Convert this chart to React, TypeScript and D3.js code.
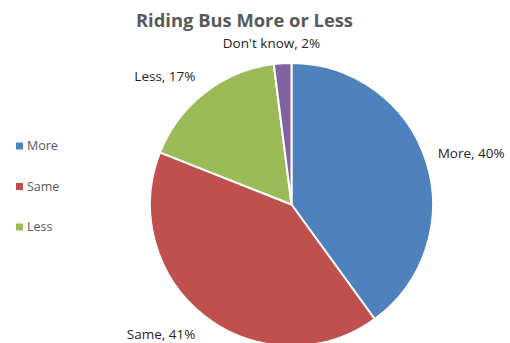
import React from "react";
import * as d3 from "d3";

const categories = ["More", "Same", "Less", "Don't know"];
const values = [40, 41, 17, 2];
const colors = ["#4F81BD", "#C0504D", "#9BBB59", "#8064A2"];
const legendItems = ["More", "Same", "Less"];
const title = "Riding Bus More or Less";

const W = 510;
const H = 343;
const cx = 291.5;
const cy = 204.5;
const R = 141.5;
const labelR = 160;
const FONT = "'Open Sans', 'Noto Sans', sans-serif";

export default function App() {
  const data = categories.map((c, i) => ({ name: c, value: values[i], color: colors[i] }));
  const pie = d3.pie<any>().value((d) => d.value).sort(null);
  const arcs = pie(data);
  const arc = d3.arc<any>().innerRadius(0).outerRadius(R);
  const legendY = d3.scalePoint<string>().domain(legendItems).range([146, 227]);

  return (
    <svg width={W} height={H} style={{ position: "absolute", left: 0, top: 0, background: "#fff" }} fontFamily={FONT}>
      <rect width={W} height={H} fill="#fff" />
      <text x={244.5} y={27} textAnchor="middle" fontSize={18} fontWeight="bold" fill="#595959" textLength={217} lengthAdjust="spacingAndGlyphs">
        {title}
      </text>
      <g transform={`translate(${cx},${cy})`}>
        {arcs.map((a, i) => (
          <path key={i} d={arc(a) as string} fill={a.data.color} stroke="#fff" strokeWidth={2} />
        ))}
        {arcs.map((a, i) => {
          const mid = (a.startAngle + a.endAngle) / 2;
          const s = Math.sin(mid);
          const c = Math.cos(mid);
          const x = labelR * s;
          const y = -labelR * c;
          const anchor = Math.abs(s) < 0.3 ? "middle" : s > 0 ? "start" : "end";
          const dx = anchor === "start" ? -6 : anchor === "end" ? 2 : -10;
          const dy = c < 0 ? 3 : -2;
          return (
            <text key={"l" + i} x={x + dx} y={y + dy} dy="0.35em" textAnchor={anchor} fontSize={13.5} fill="#262626">
              {`${a.data.name}, ${a.data.value}%`}
            </text>
          );
        })}
      </g>
      {legendItems.map((name) => {
        const i = categories.indexOf(name);
        const y = legendY(name) as number;
        return (
          <g key={name}>
            <rect x={16} y={y - 3.5} width={7} height={7} fill={colors[i]} />
            <text x={27} y={y} dy="0.35em" fontSize={12.5} fill="#595959">{name}</text>
          </g>
        );
      })}
    </svg>
  );
}
